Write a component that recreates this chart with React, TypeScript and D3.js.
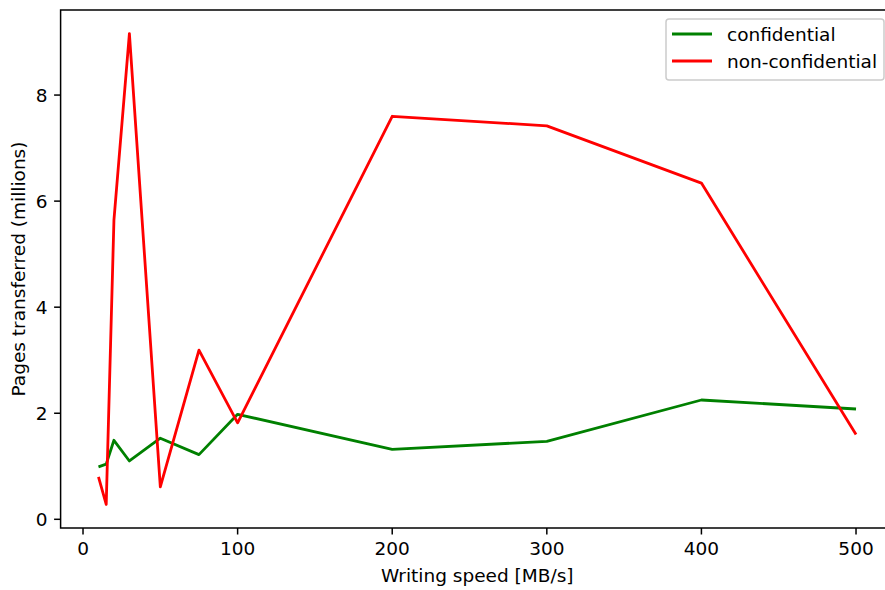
import React, { useEffect, useRef } from 'react';
import * as d3 from 'd3';

const speeds = [10, 15, 20, 30, 50, 75, 100, 200, 300, 400, 500];
const confidential = [0.99, 1.04, 1.49, 1.1, 1.53, 1.22, 1.98, 1.32, 1.47, 2.25, 2.08];
const nonConfidential = [0.8, 0.28, 5.64, 9.16, 0.61, 3.19, 1.82, 7.6, 7.42, 6.34, 1.6];
const xTicks = [0, 100, 200, 300, 400, 500];
const yTicks = [0, 2, 4, 6, 8];
const seriesNames = ['confidential', 'non-confidential'];
const seriesColors = ['green', 'red'];

const W = 885;
const H = 590;
const FONT = 'DejaVu Sans, sans-serif';
const FS = 18.5;

export default function App() {
  const svgRef = useRef(null);

  useEffect(() => {
    const svg = d3.select(svgRef.current);
    svg.selectAll('*').remove();

    const left = 60.6, right = 893.9, top = 10, bottom = 528;

    const xPad = (500 - 10) * 0.05;
    const x = d3.scaleLinear().domain([10 - xPad, 500 + xPad]).range([left, right]);

    const all = confidential.concat(nonConfidential);
    const yMin = d3.min(all), yMax = d3.max(all);
    const yPad = (yMax - yMin) * 0.05;
    const y = d3.scaleLinear().domain([yMin - yPad, yMax + yPad]).range([bottom, top]);

    svg.append('rect').attr('width', W).attr('height', H).attr('fill', 'white');

    const plot = svg.append('g');
    const line = d3.line().x((d) => x(d[0])).y((d) => y(d[1]));
    [confidential, nonConfidential].forEach((vals, i) => {
      plot
        .append('path')
        .datum(speeds.map((s, j) => [s, vals[j]]))
        .attr('fill', 'none')
        .attr('stroke', seriesColors[i])
        .attr('stroke-width', 2.8)
        .attr('stroke-linejoin', 'round')
        .attr('d', line);
    });

    // spines
    svg
      .append('rect')
      .attr('x', left)
      .attr('y', top)
      .attr('width', right - left)
      .attr('height', bottom - top)
      .attr('fill', 'none')
      .attr('stroke', 'black')
      .attr('stroke-width', 1.5);

    const xAxis = svg.append('g').attr('transform', `translate(0,${bottom})`);
    xTicks.forEach((t) => {
      xAxis.append('line').attr('x1', x(t)).attr('x2', x(t)).attr('y1', 0).attr('y2', 6.5).attr('stroke', 'black').attr('stroke-width', 1.5);
      xAxis
        .append('text')
        .attr('x', x(t))
        .attr('y', 27)
        .attr('text-anchor', 'middle')
        .attr('font-family', FONT)
        .attr('font-size', FS)
        .text(t);
    });

    const yAxis = svg.append('g').attr('transform', `translate(${left},0)`);
    yTicks.forEach((t) => {
      yAxis.append('line').attr('x1', -6.5).attr('x2', 0).attr('y1', y(t)).attr('y2', y(t)).attr('stroke', 'black').attr('stroke-width', 1.5);
      yAxis
        .append('text')
        .attr('x', -13)
        .attr('y', y(t))
        .attr('dy', '0.36em')
        .attr('text-anchor', 'end')
        .attr('font-family', FONT)
        .attr('font-size', FS)
        .text(t);
    });

    svg
      .append('text')
      .attr('x', (left + right) / 2)
      .attr('y', 582)
      .attr('text-anchor', 'middle')
      .attr('font-family', FONT)
      .attr('font-size', FS)
      .text('Writing speed [MB/s]');

    svg
      .append('text')
      .attr('transform', `translate(25,${(top + bottom) / 2}) rotate(-90)`)
      .attr('text-anchor', 'middle')
      .attr('font-family', FONT)
      .attr('font-size', FS)
      .text('Pages transferred (millions)');

    // legend
    const lg = svg.append('g');
    lg.append('rect')
      .attr('x', 666)
      .attr('y', 19)
      .attr('width', 218)
      .attr('height', 61)
      .attr('rx', 3)
      .attr('fill', 'white')
      .attr('fill-opacity', 0.8)
      .attr('stroke', '#cccccc')
      .attr('stroke-width', 1.5);
    seriesNames.forEach((name, i) => {
      const ly = 34 + i * 27;
      lg.append('line').attr('x1', 672).attr('x2', 712).attr('y1', ly).attr('y2', ly).attr('stroke', seriesColors[i]).attr('stroke-width', 2.8);
      lg.append('text')
        .attr('x', 727)
        .attr('y', ly)
        .attr('dy', '0.36em')
        .attr('font-family', FONT)
        .attr('font-size', FS)
        .text(name);
    });
  }, []);

  return (
    <svg
      ref={svgRef}
      width={W}
      height={H}
      style={{ position: 'absolute', left: 0, top: 0 }}
    />
  );
}
